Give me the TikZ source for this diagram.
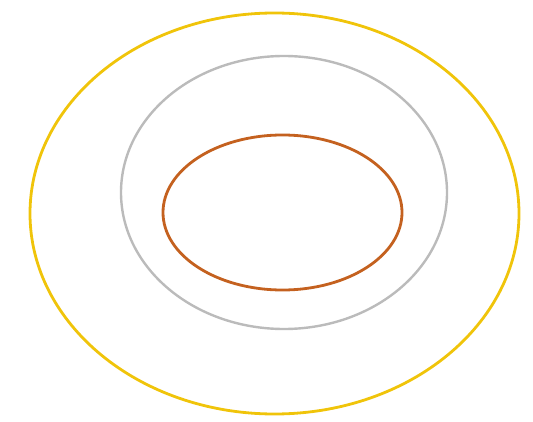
\documentclass[tikz,border=0pt]{standalone}
\usetikzlibrary{shapes.geometric}
\definecolor{ringyellow}{HTML}{F0C40A}
\definecolor{ringgray}{HTML}{BBBBBB}
\definecolor{ringorange}{HTML}{C4611F}
\tikzset{ring/.style={ellipse, draw, inner sep=0pt, outer sep=0pt}}
\begin{document}
\begin{tikzpicture}[x=1pt,y=-1pt]
\useasboundingbox (0,0) rectangle (533,422);
\node[ring, draw=ringyellow, line width=2.8pt, minimum width=489pt, minimum height=401pt] (outer) at (274.5,213.5) {};
\node[ring, draw=ringgray, line width=2.4pt, minimum width=326pt, minimum height=273pt] (middle) at (284,192.5) {};
\node[ring, draw=ringorange, line width=2.8pt, minimum width=239pt, minimum height=155pt] (inner) at (282.5,212.5) {};
\end{tikzpicture}
\end{document}
